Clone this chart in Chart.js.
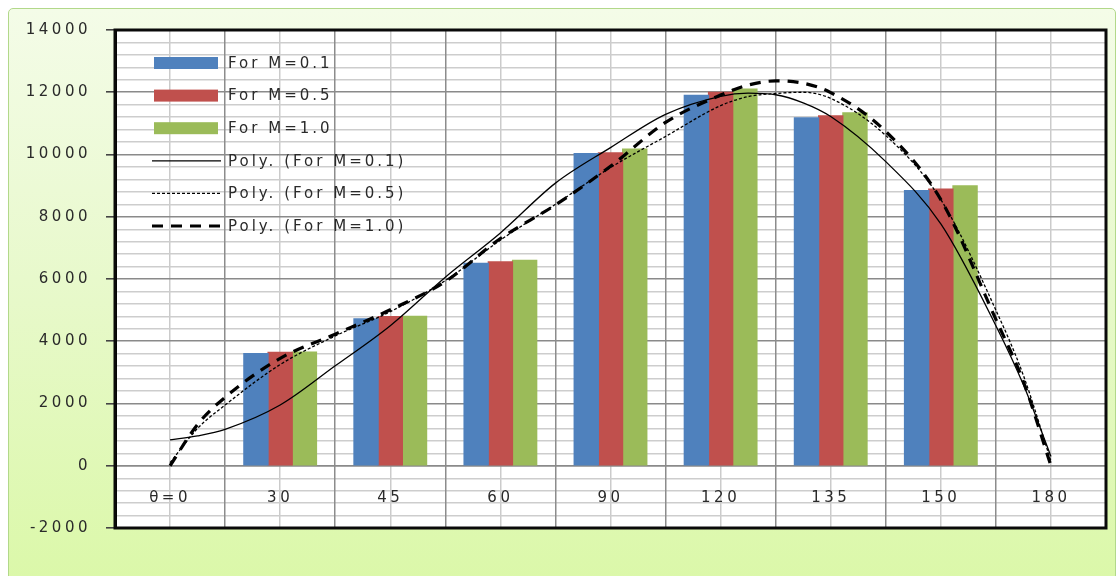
<!DOCTYPE html>
<html>
<head>
<meta charset="utf-8">
<script src="https://cdn.jsdelivr.net/npm/chart.js@4.4.0/dist/chart.umd.min.js"></script>
<style>
  html, body { margin: 0; padding: 0; width: 1120px; height: 576px; overflow: hidden; background: #ffffff; }
  .frame {
    position: absolute; left: 8px; top: 8px; width: 1108px; height: 600px;
    box-sizing: border-box; border: 1px solid #b2d88a; border-radius: 5px;
    background: linear-gradient(to bottom, #f4fce8 0%, #e8f9cc 45%, #daf8a6 100%);
  }
  canvas { position: absolute; left: 0; top: 0; }
</style>
</head>
<body>
<div class="frame"></div>
<canvas id="bars" width="1120" height="576"></canvas>
<canvas id="trends" width="1120" height="576"></canvas>
<script>
// Angle categories on the horizontal axis
const categories = ['θ=0', '30', '45', '60', '90', '120', '135', '150', '180'];

// Bar series (no bar at θ=0 and 180)
const seriesNames = ['For M=0.1', 'For M=0.5', 'For M=1.0'];
const barsM01 = [null, 3600, 4720, 6500, 10030, 11900, 11180, 8840, null];
const barsM05 = [null, 3640, 4790, 6550, 10050, 12000, 11240, 8890, null];
const barsM10 = [null, 3650, 4800, 6600, 10170, 12100, 11340, 8990, null];
const barColors = ['#4f81bd', '#c0504d', '#9bbb59'];

// Polynomial trend curves, sampled along the category index (0 = θ=0 ... 8 = 180)
const trendNames = ['Poly. (For M=0.1)', 'Poly. (For M=0.5)', 'Poly. (For M=1.0)'];
const trendPos  = [0, 0.25, 0.5, 1, 1.5, 2, 2.5, 3, 3.5, 4, 4.5, 5, 5.25, 5.5, 5.75, 6, 6.5, 7, 7.5, 7.75, 8];
const trendM01  = [830, 960, 1170, 1950, 3210, 4500, 6060, 7480, 9080, 10220, 11290, 11870, 11970, 11920, 11660, 11220, 9770, 7770, 4500, 2600, 300];
const trendM05  = [100, 1200, 1950, 3250, 4170, 4950, 5950, 7250, 8400, 9580, 10580, 11570, 11860, 11960, 12000, 11800, 10610, 8550, 5000, 2900, 150];
const trendM10  = [0, 1330, 2200, 3450, 4230, 5010, 5920, 7300, 8380, 9620, 11030, 11910, 12230, 12365, 12290, 11990, 10740, 8550, 4700, 2700, 0];

// Value axis
const yMin = -2000, yMax = 14000, yMinorStep = 400, yMajorStep = 2000;

const FONT = 'DejaVu Sans';
const TEXT_COLOR = '#2a2a2a';
const SPACING = '3.5px';
const PLOT_PADDING = { top: 30, right: 14, bottom: 48 };
const AXIS_WIDTH = 115;

const lineStyles = [
  { width: 1.3, dash: [] },
  { width: 1.3, dash: [3, 2] },
  { width: 3.2, dash: [11, 8] }
];

function trendData(values) {
  return trendPos.map((p, i) => ({ x: p, y: values[i] }));
}

const barSets = [barsM01, barsM05, barsM10].map((vals, i) => ({
  label: seriesNames[i],
  data: vals,
  backgroundColor: barColors[i],
  borderWidth: 0,
  inflateAmount: 0.6,
  categoryPercentage: 0.66,
  barPercentage: 1.0
}));

const lineSets = [trendM01, trendM05, trendM10].map((vals, i) => ({
  label: trendNames[i],
  data: trendData(vals),
  borderColor: '#000000',
  borderWidth: lineStyles[i].width,
  borderDash: lineStyles[i].dash,
  pointRadius: 0,
  fill: false,
  cubicInterpolationMode: 'monotone'
}));

// White plot background, wide text spacing
const plotBackground = {
  id: 'plotBackground',
  beforeDraw(chart) {
    const { ctx, chartArea: a } = chart;
    ctx.save();
    ctx.fillStyle = '#ffffff';
    ctx.fillRect(a.left, a.top, a.right - a.left, a.bottom - a.top);
    ctx.restore();
    ctx.letterSpacing = SPACING;
  }
};

// Black frame around the plot and the in-plot legend for all six series
const frameAndLegend = {
  id: 'frameAndLegend',
  afterDraw(chart) {
    const { ctx, chartArea: a } = chart;
    ctx.save();
    ctx.strokeStyle = '#0a0a0a';
    ctx.lineWidth = 3;
    ctx.strokeRect(a.left, a.top, a.right - a.left, a.bottom - a.top);

    const x0 = a.left + 39, boxW = 64, rowH = 32.6;
    let y = a.top + 33;
    ctx.font = '15px "' + FONT + '"';
    ctx.letterSpacing = '3px';
    ctx.textBaseline = 'middle';
    ctx.textAlign = 'left';
    [...barSets, ...lineSets].forEach((ds) => {
      if (ds.backgroundColor) {
        ctx.fillStyle = ds.backgroundColor;
        ctx.fillRect(x0, y - 6, boxW, 12);
      } else {
        ctx.strokeStyle = ds.borderColor;
        ctx.lineWidth = ds.borderWidth;
        ctx.setLineDash(ds.borderDash);
        ctx.beginPath();
        ctx.moveTo(x0 - 2, y);
        ctx.lineTo(x0 + boxW + 3, y);
        ctx.stroke();
        ctx.setLineDash([]);
      }
      ctx.fillStyle = TEXT_COLOR;
      ctx.fillText(ds.label, x0 + boxW + 10, y + 1);
      y += rowH;
    });
    ctx.restore();
  }
};

const isMajor = v => Math.abs(v % yMajorStep) < 1e-6;

// Bars, axes, grid and legend
new Chart(document.getElementById('bars'), {
  type: 'bar',
  data: { labels: categories, datasets: barSets },
  options: {
    responsive: false,
    animation: false,
    events: [],
    layout: { padding: { left: 0, ...PLOT_PADDING } },
    plugins: { legend: { display: false }, tooltip: { enabled: false } },
    scales: {
      x: {
        type: 'category',
        offset: true,
        position: { y: 0 },
        border: { color: '#8a8a8a', width: 1.5 },
        grid: { color: '#8c8c8c', lineWidth: 1.5, offset: true, drawTicks: false, z: 0 },
        ticks: { padding: 23, color: TEXT_COLOR, font: { family: FONT, size: 15 } },
        afterFit: s => { s.height = 0; }
      },
      xc: {
        type: 'category',
        labels: categories,
        offset: true,
        position: 'bottom',
        border: { display: false },
        grid: { color: '#cbcbcb', lineWidth: 1.5, offset: false, drawTicks: false, z: -2 },
        ticks: { display: false },
        afterFit: s => { s.height = 0; }
      },
      y: {
        min: yMin,
        max: yMax,
        border: { color: '#000000', width: 3 },
        grid: {
          z: -1,
          color: c => isMajor(c.tick.value) ? '#8a8a8a' : '#cdcdcd',
          lineWidth: c => isMajor(c.tick.value) ? 1.6 : 1.4,
          tickLength: 9,
          tickColor: c => isMajor(c.tick.value) ? '#444444' : 'rgba(0,0,0,0)'
        },
        ticks: {
          stepSize: yMinorStep,
          autoSkip: false,
          maxTicksLimit: 100,
          padding: 15,
          color: TEXT_COLOR,
          font: { family: FONT, size: 15 },
          callback: v => isMajor(v) ? String(v) : ''
        },
        afterFit: s => { s.width = AXIS_WIDTH; }
      }
    }
  },
  plugins: [plotBackground, frameAndLegend]
});

// Trend curves on the same plot area, positioned by category index
new Chart(document.getElementById('trends'), {
  type: 'line',
  data: { datasets: lineSets },
  options: {
    responsive: false,
    animation: false,
    events: [],
    layout: { padding: { left: AXIS_WIDTH, ...PLOT_PADDING } },
    plugins: { legend: { display: false }, tooltip: { enabled: false } },
    scales: {
      x: { type: 'linear', min: -0.5, max: 8.5, offset: false, display: false },
      y: { min: yMin, max: yMax, display: false }
    }
  }
});
</script>
</body>
</html>
